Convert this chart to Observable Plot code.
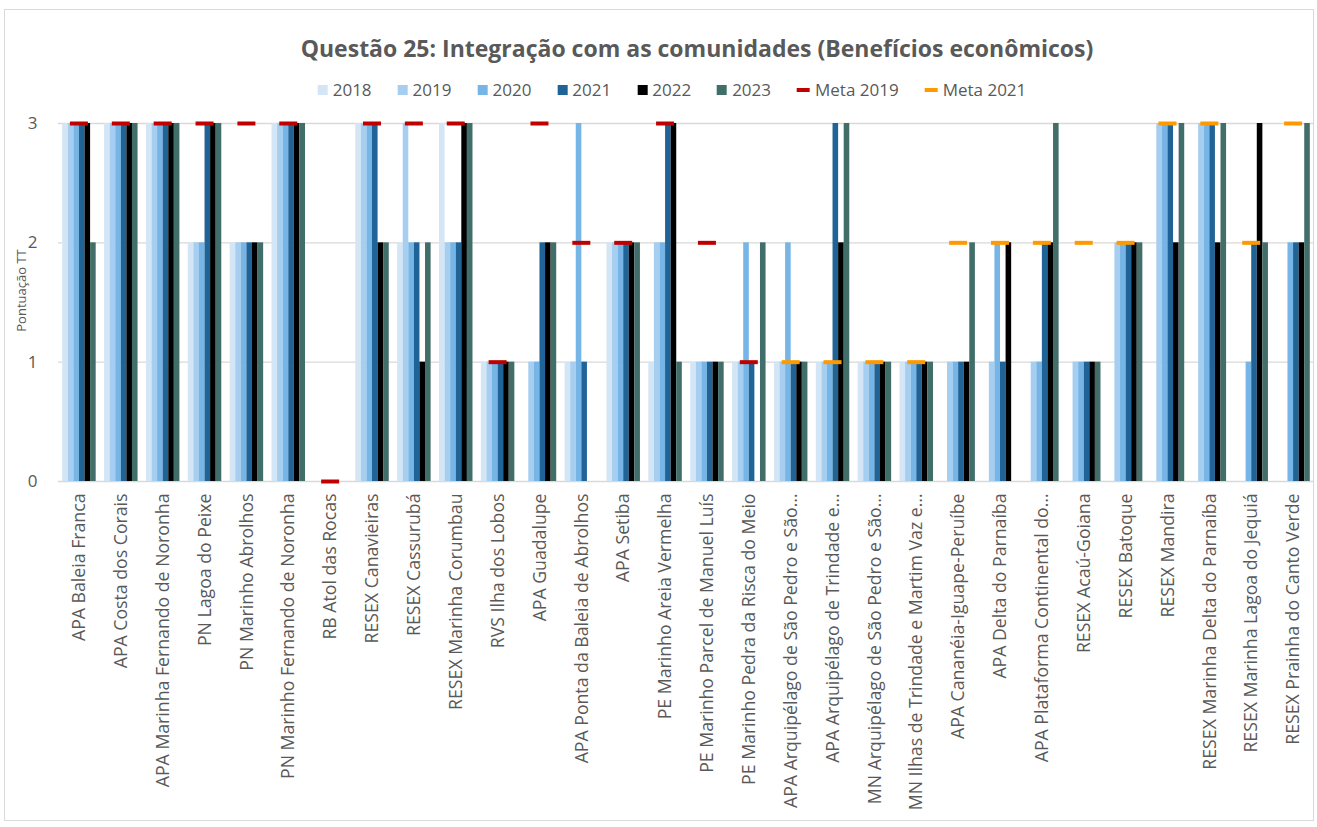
<!DOCTYPE html>
<html>
<head>
<meta charset="utf-8">
<script src="https://cdn.jsdelivr.net/npm/d3@7"></script>
<script src="https://cdn.jsdelivr.net/npm/@observablehq/plot@0.6"></script>
<style>
  html, body { margin: 0; padding: 0; background: #fff; overflow: hidden; }
  body { font-family: "Open Sans", sans-serif; width: 1317px; height: 827px; position: relative; }
  #frame { position: absolute; left: 4px; top: 9px; width: 1310px; height: 812px; border: 1px solid #d9d9d9; box-sizing: border-box; }
  #title { position: absolute; top: 32px; left: 697px; transform: translateX(-50%); white-space: nowrap;
           font-size: 23px; font-weight: 700; color: #595959; }
  #legend { position: absolute; top: 78px; left: 672px; transform: translateX(-50%); white-space: nowrap;
            display: flex; align-items: center; gap: 26px; font-size: 17px; color: #595959; }
  .item { display: flex; align-items: center; gap: 5px; }
  .sw { display: inline-block; width: 10px; height: 10px; }
  .dash { display: inline-block; width: 13px; height: 4px; }
  #chart { position: absolute; left: 0; top: 100px; }
  #chart svg [aria-label^="x-axis"] { font-size: 17.7px; }
</style>
</head>
<body>
<div id="frame"></div>
<div id="title">Questão 25: Integração com as comunidades (Benefícios econômicos)</div>
<div id="legend"></div>
<div id="chart"></div>
<script>
const categories = [
  "APA Baleia Franca", "APA Costa dos Corais", "APA Marinha Fernando de Noronha",
  "PN Lagoa do Peixe", "PN Marinho Abrolhos", "PN Marinho Fernando de Noronha",
  "RB Atol das Rocas", "RESEX Canavieiras", "RESEX Cassurubá", "RESEX Marinha Corumbau",
  "RVS Ilha dos Lobos", "APA Guadalupe", "APA Ponta da Baleia de Abrolhos", "APA Setiba",
  "PE Marinho Areia Vermelha", "PE Marinho Parcel de Manuel Luís", "PE Marinho Pedra da Risca do Meio",
  "APA Arquipélago de São Pedro e São…", "APA Arquipélago de Trindade e…",
  "MN Arquipélago de São Pedro e São…", "MN Ilhas de Trindade e Martim Vaz e…",
  "APA Cananéia-Iguape-Peruíbe", "APA Delta do Parnaíba", "APA Plataforma Continental do…",
  "RESEX Acaú-Goiana", "RESEX Batoque", "RESEX Mandira", "RESEX Marinha Delta do Parnaíba",
  "RESEX Marinha Lagoa do Jequiá", "RESEX Prainha do Canto Verde"
];
const years = ["2018", "2019", "2020", "2021", "2022", "2023"];
const y2018 = [3,3,3,2,2,3,null,3,2,3, 1,null,1,2,1,1,1,1,1,1, 1,null,null,null,null,null,null,null,null,null];
const y2019 = [3,3,3,2,2,3,null,3,3,2, 1,1,1,2,2,1,1,1,1,1, 1,1,1,1,1,2,3,3,null,null];
const y2020 = [3,3,3,2,2,3,null,3,2,2, 1,1,3,2,2,1,2,2,1,1, 1,1,2,1,1,2,3,3,1,2];
const y2021 = [3,3,3,3,2,3,null,3,2,2, 1,2,1,2,3,1,1,1,3,1, 1,1,1,2,1,2,3,3,2,2];
const y2022 = [3,3,3,3,2,3,null,2,1,3, 1,2,null,2,3,1,null,1,2,1, 1,1,2,2,1,2,2,2,3,2];
const y2023 = [2,3,3,3,2,3,null,2,2,3, 1,2,null,2,1,1,2,1,3,1, 1,2,null,3,1,2,3,3,2,3];
const meta2019 = [3,3,3,3,3,3,0,3,3,3, 1,3,2,2,3,2,1,null,null,null, null,null,null,null,null,null,null,null,null,null];
const meta2021 = [null,null,null,null,null,null,null,null,null,null, null,null,null,null,null,null,null,1,1,1, 1,2,2,2,2,2,3,3,2,3];
const yearColors = ["#d4e6f5", "#a5cef0", "#76b5e5", "#1f6397", "#000000", "#416e69"];
const metaNames = ["Meta 2019", "Meta 2021"];
const metaColors = ["#c00000", "#ff9900"];
const yLabel = "Pontuação TT";

const seriesValues = [y2018, y2019, y2020, y2021, y2022, y2023];
const bars = [];
years.forEach((yr, i) => categories.forEach((c, j) => {
  const v = seriesValues[i][j];
  if (v != null) bars.push({cat: c, year: yr, value: v});
}));
const metaSeries = [meta2019, meta2021];
const metas = [];
metaNames.forEach((m, i) => categories.forEach((c, j) => {
  const v = metaSeries[i][j];
  if (v != null) metas.push({cat: c, meta: m, value: v});
}));

const W = 1317, mL = 58, mR = 3;
const pIn = 0.2, pOut = 0.1;
const band = d3.scaleBand(categories, [mL, W - mR]).paddingInner(pIn).paddingOuter(pOut);
const bw = band.bandwidth();
const w = bw / years.length;
const dashW = 18;

const marks = [
  Plot.ruleY([0, 1, 2, 3], {stroke: "#d9d9d9", strokeWidth: 1.3})
];
years.forEach((yr, i) => {
  marks.push(Plot.barY(bars.filter(d => d.year === yr), {
    x: "cat", y: "value", fill: yearColors[i],
    insetLeft: i * w, insetRight: (years.length - 1 - i) * w
  }));
});
metaNames.forEach((m, i) => {
  marks.push(Plot.tickY(metas.filter(d => d.meta === m), {
    x: "cat", y: "value", stroke: metaColors[i], strokeWidth: 4,
    insetLeft: (bw - dashW) / 2, insetRight: (bw - dashW) / 2
  }));
});
marks.push(Plot.text([yLabel], {
  text: d => d, frameAnchor: "left", textAnchor: "middle", rotate: -90, dx: -37, dy: -12,
  fontSize: 13, fill: "#595959"
}));

const chart = Plot.plot({
  width: W,
  height: 711,
  marginLeft: mL,
  marginRight: mR,
  marginTop: 23,
  marginBottom: 330,
  style: {fontFamily: "Open Sans", fontSize: "17px", color: "#595959", background: "transparent"},
  x: {domain: categories, paddingInner: pIn, paddingOuter: pOut, round: false, tickRotate: -90, tickSize: 0, tickPadding: 12, label: null},
  y: {domain: [0, 3], ticks: 3, tickSize: 0, tickPadding: 21, label: null, tickFormat: d => d},
  marks
});
document.getElementById("chart").appendChild(chart);

const legend = document.getElementById("legend");
years.forEach((yr, i) => {
  const it = document.createElement("div"); it.className = "item";
  it.innerHTML = `<span class="sw" style="background:${yearColors[i]}"></span><span>${yr}</span>`;
  legend.appendChild(it);
});
metaNames.forEach((m, i) => {
  const it = document.createElement("div"); it.className = "item";
  it.innerHTML = `<span class="dash" style="background:${metaColors[i]}"></span><span>${m}</span>`;
  legend.appendChild(it);
});
</script>
</body>
</html>
